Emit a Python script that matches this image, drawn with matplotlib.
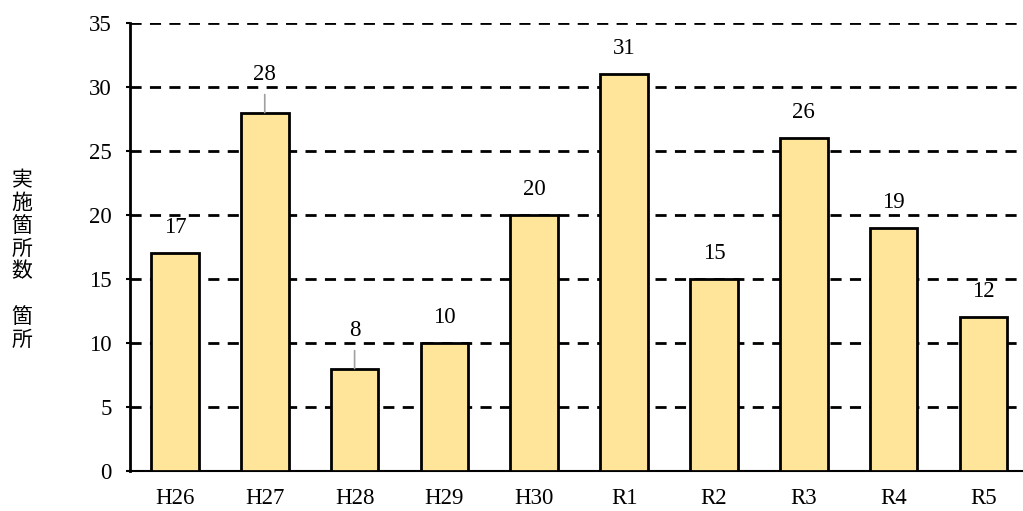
import matplotlib
matplotlib.use("Agg")
import matplotlib.pyplot as plt

categories = ["H26", "H27", "H28", "H29", "H30", "R1", "R2", "R3", "R4", "R5"]
values = [17, 28, 8, 10, 20, 31, 15, 26, 19, 12]
yticks = [0, 5, 10, 15, 20, 25, 30, 35]
ylabel_text = "実\n施\n箇\n所\n数\n \n箇\n所"
leader_values = [28, 8]

serif = ["Liberation Serif", "DejaVu Serif"]

fig = plt.figure(figsize=(10.23, 5.11), dpi=100)
ax = fig.add_axes([130/1023, 1 - 471/511, (1023-130)/1023, (471-23)/511])

x = list(range(len(categories)))
ax.bar(x, values, width=0.53, color="#FFE599", edgecolor="black", linewidth=2, zorder=3)

ax.set_ylim(0, 35)
ax.set_xlim(-0.5, 9.44)
ax.set_yticks(yticks)
ax.set_yticklabels([str(v) for v in yticks], fontfamily=serif, fontsize=16.5)
ax.set_xticks(x)
ax.set_xticklabels(categories, fontfamily=serif, fontsize=16.5)
ax.tick_params(axis="x", length=0, pad=12)
ax.tick_params(axis="y", length=3, width=1.5, pad=10)

for y in yticks[1:]:
    ax.axhline(y, color="black", linestyle=(0, (4, 3)), linewidth=2, zorder=2)

for s in ["top", "right"]:
    ax.spines[s].set_visible(False)
ax.spines["left"].set_linewidth(2)
ax.spines["bottom"].set_linewidth(1.5)

for xi, v in zip(x, values):
    off = 27.5 if v in leader_values else 18.5
    ax.annotate(str(v), (xi, v), xytext=(0, off), textcoords="offset points",
                ha="center", va="center", fontfamily=serif, fontsize=16.5)
    if v in leader_values:
        ax.annotate("", xy=(xi, v), xytext=(0, 13), textcoords="offset points",
                    arrowprops=dict(arrowstyle="-", color="#A0A0A0", lw=1.2, shrinkA=0, shrinkB=0))

fig.text(22/1023, 1 - 260/511, ylabel_text, ha="center", va="center",
         fontfamily=["Noto Sans CJK JP", "DejaVu Sans"], fontsize=15, linespacing=1.05)

fig.savefig("out.png", dpi=100)
